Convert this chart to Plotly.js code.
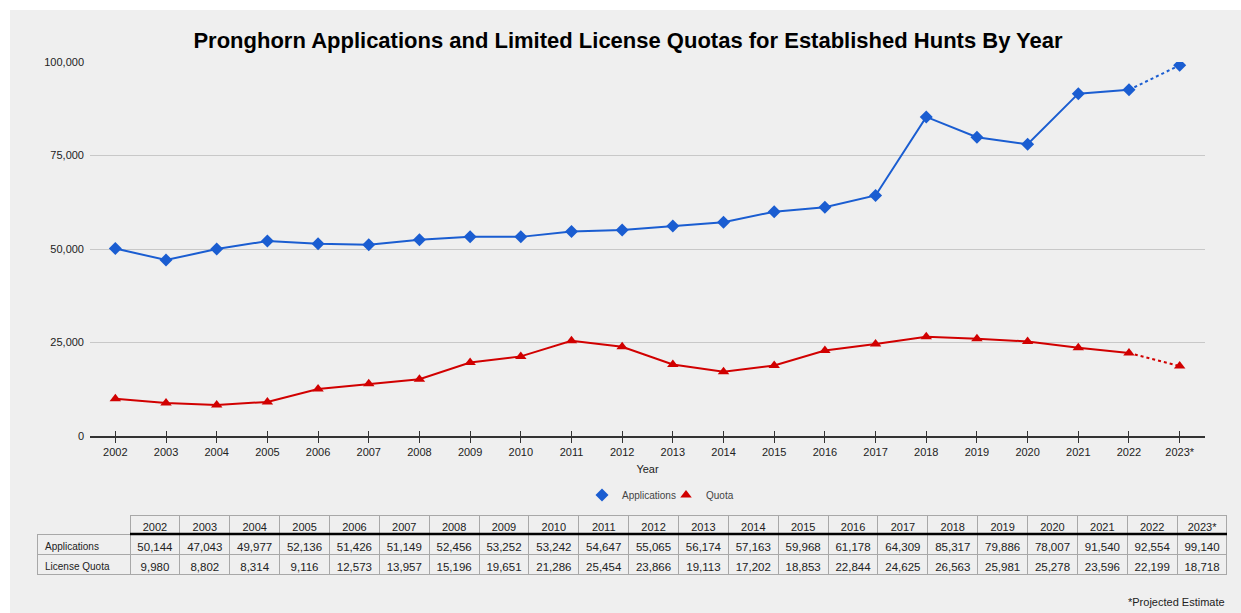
<!DOCTYPE html>
<html><head><meta charset="utf-8">
<script src="https://cdn.plot.ly/plotly-3.0.1.min.js"></script>
<style>
html,body{margin:0;padding:0;background:#fff;}
#chart{position:absolute;left:10px;top:10px;width:1231px;height:603px;}
</style></head>
<body><div id="chart"></div>
<script>
const years = ['2002','2003','2004','2005','2006','2007','2008','2009','2010','2011','2012','2013','2014','2015','2016','2017','2018','2019','2020','2021','2022','2023*'];
const applications = [50144,47043,49977,52136,51426,51149,52456,53252,53242,54647,55065,56174,57163,59968,61178,64309,85317,79886,78007,91540,92554,99140];
const quota = [9980,8802,8314,9116,12573,13957,15196,19651,21286,25454,23866,19113,17202,18853,22844,24625,26563,25981,25278,23596,22199,18718];
const rowLabels = ['Applications','License Quota'];
const yTicks = [0,25000,50000,75000,100000];

const W = 1231, H = 603;
const blue = '#1a5dd1', red = '#d10000';
const font = 'Arial, "Liberation Sans", sans-serif';
const fmt = v => v.toLocaleString('en-US');
const n = years.length;
const solidX = years.slice(0, n-1), dotX = years.slice(n-2);

const traces = [
  {type:'scatter', mode:'lines', x:solidX, y:applications.slice(0,n-1), line:{color:blue,width:2}, showlegend:false, hoverinfo:'skip'},
  {type:'scatter', mode:'lines', x:dotX, y:applications.slice(n-2), line:{color:blue,width:2,dash:'dot'}, showlegend:false, hoverinfo:'skip'},
  {type:'scatter', mode:'lines', x:solidX, y:quota.slice(0,n-1), line:{color:red,width:2}, showlegend:false, hoverinfo:'skip'},
  {type:'scatter', mode:'lines', x:dotX, y:quota.slice(n-2), line:{color:red,width:2,dash:'dot'}, showlegend:false, hoverinfo:'skip', xaxis:'x2'},
  {type:'scatter', mode:'markers', name:'Applications', x:years, y:applications, marker:{symbol:'diamond', size:10, color:blue}},
  {type:'scatter', mode:'markers', name:'Quota', x:years, y:quota, marker:{symbol:'triangle-up', size:10, color:red}},
];

const headerVals = [''].concat(years);
const cellVals = [rowLabels].concat(years.map((y,i)=>[fmt(applications[i]), fmt(quota[i])]));
const lineColors = ['rgba(0,0,0,0)'].concat(years.map(()=> '#a8a8a8'));
const headerFill = ['rgba(0,0,0,0)'].concat(years.map(()=> '#efefef'));
traces.push({
  type:'table',
  domain:{x:[27/W, 1217/W], y:[0, 1-505/H]},
  columnwidth:[93].concat(years.map(()=>49.86)),
  header:{values:headerVals, height:19, align:'center', line:{color:lineColors, width:1}, fill:{color:headerFill}, font:{family:font, size:11, color:'#222'}},
  cells:{values:cellVals, height:20, align:['left'].concat(years.map(()=> 'center')), line:{color:'#a8a8a8', width:1}, fill:{color:'#efefef'}, font:{family:font, size:[10].concat(years.map(()=>11.5)), color:'#222'}}
});

const xDom = [80/W, 1195/W], yDom = [1-426/H, 1-52/H];
const layout = {
  width:W, height:H,
  margin:{l:0,r:0,t:0,b:0},
  paper_bgcolor:'#efefef', plot_bgcolor:'#efefef',
  font:{family:font, color:'#222'},
  title:{text:'<b>Pronghorn Applications and Limited License Quotas for Established Hunts By Year</b>', font:{family:font, size:22, color:'#000'}, x:618/W, xanchor:'center', y:1-30/H, yanchor:'middle', yref:'container'},
  xaxis:{domain:xDom, type:'category', range:[-0.5, n-0.5], showgrid:false, showline:true, linecolor:'#333', linewidth:2, ticks:'outside', ticklen:5, tickcolor:'#333', tickwidth:1, tickfont:{size:11, color:'#222'}, title:{text:'Year', font:{size:11, color:'#222'}, standoff:8}, automargin:false, anchor:'y', fixedrange:true},
  xaxis2:{domain:xDom, type:'category', overlaying:'x', matches:'x', range:[-0.5, n-0.5], showgrid:false, showline:false, ticks:'inside', ticklen:5, tickcolor:'#333', tickwidth:1, showticklabels:false, anchor:'y', side:'bottom'},
  yaxis:{domain:yDom, range:[0,100000], tickvals:yTicks, ticktext:yTicks.map(fmt), showgrid:true, gridcolor:'#c8c8c8', gridwidth:1, zeroline:false, showline:false, ticks:'', ticklabelstandoff:5, tickfont:{size:11, color:'#222'}, automargin:false, fixedrange:true},
  legend:{orientation:'h', x:656/W, xanchor:'center', y:1-485/H, yanchor:'middle', entrywidth:39, entrywidthmode:'pixels', font:{size:10, color:'#444'}, bgcolor:'rgba(0,0,0,0)'},
  shapes:[
    {type:'line', xref:'paper', yref:'paper', x0:120/W, x1:1217/W, y0:1-524/H, y1:1-524/H, line:{color:'#000', width:2.5}}
  ],
  annotations:[
    {text:'*Projected Estimate', xref:'paper', yref:'paper', x:1217/W, xanchor:'right', y:1-592/H, yanchor:'middle', showarrow:false, font:{size:11, color:'#222'}}
  ]
};
Plotly.newPlot('chart', traces, layout, {displayModeBar:false, staticPlot:true});
</script></body></html>
